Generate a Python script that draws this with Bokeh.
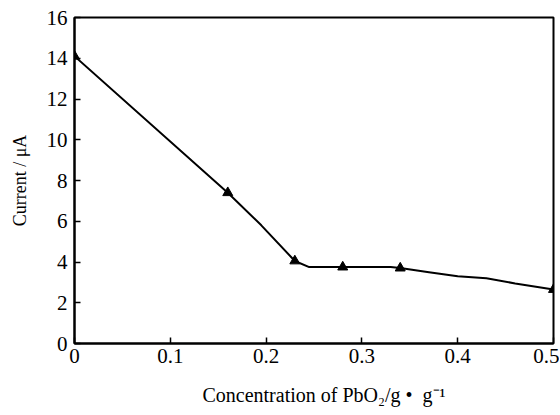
from bokeh.plotting import figure
from bokeh.embed import file_html
from bokeh.resources import INLINE
from bokeh.models import FixedTicker, Range1d

# measured points (triangles)
conc = [0.0, 0.16, 0.23, 0.28, 0.34, 0.50]
current = [14.1, 7.4, 4.05, 3.75, 3.7, 2.65]

# traced curve through the points
curve_x = [0.0, 0.16, 0.195, 0.23, 0.245, 0.28, 0.33, 0.34, 0.37, 0.40, 0.43, 0.46, 0.50]
curve_y = [14.1, 7.4, 5.8, 4.05, 3.75, 3.75, 3.75, 3.7, 3.5, 3.3, 3.2, 2.95, 2.65]

x_ticks = [0, 0.1, 0.2, 0.3, 0.4, 0.5]
y_ticks = [0, 2, 4, 6, 8, 10, 12, 14, 16]

FONT = "Liberation Serif"

p = figure(frame_width=479, frame_height=326, output_backend="svg",
           toolbar_location=None, x_range=Range1d(0, 0.5), y_range=Range1d(0, 16),
           min_border_left=74, min_border_top=17, min_border_right=6, min_border_bottom=6)

p.line(curve_x, curve_y, line_color="black", line_width=2)
p.scatter(conc, current, marker="triangle", size=10, fill_color="black", line_color="black")

p.xgrid.visible = False
p.ygrid.visible = False
p.outline_line_color = "black"
p.outline_line_width = 2
p.outline_line_alpha = 1

p.xaxis.ticker = FixedTicker(ticks=x_ticks)
p.yaxis.ticker = FixedTicker(ticks=y_ticks)
p.xaxis.major_label_overrides = {0: "0", 0.1: "0.1", 0.2: "0.2", 0.3: "0.3", 0.4: "0.4", 0.5: "0.5"}
p.yaxis.major_label_overrides = {v: str(v) for v in y_ticks}

for ax in (p.xaxis[0], p.yaxis[0]):
    ax.axis_line_color = "black"
    ax.axis_line_width = 2
    ax.major_tick_in = 6
    ax.major_tick_out = 0
    ax.minor_tick_line_color = None
    ax.major_tick_line_width = 1.5
    ax.major_label_text_font = FONT
    ax.major_label_text_font_size = "21px"
    ax.major_label_text_color = "black"
    ax.axis_label_text_font = FONT
    ax.axis_label_text_font_style = "normal"
    ax.axis_label_text_color = "black"

p.xaxis.axis_label_text_font_size = "20px"
p.yaxis.axis_label_text_font_size = "18px"
p.xaxis.axis_label = "\u2002\u2002Concentration of PbO\u2082/g \u2022\u2002g\u207b\u00b9"
p.yaxis.axis_label = "Current / \u03bcA"
p.xaxis.major_label_standoff = 5
p.yaxis.major_label_standoff = 7
p.xaxis.axis_label_standoff = 18
p.yaxis.axis_label_standoff = 14

open("out.html", "w").write(file_html(p, INLINE))
